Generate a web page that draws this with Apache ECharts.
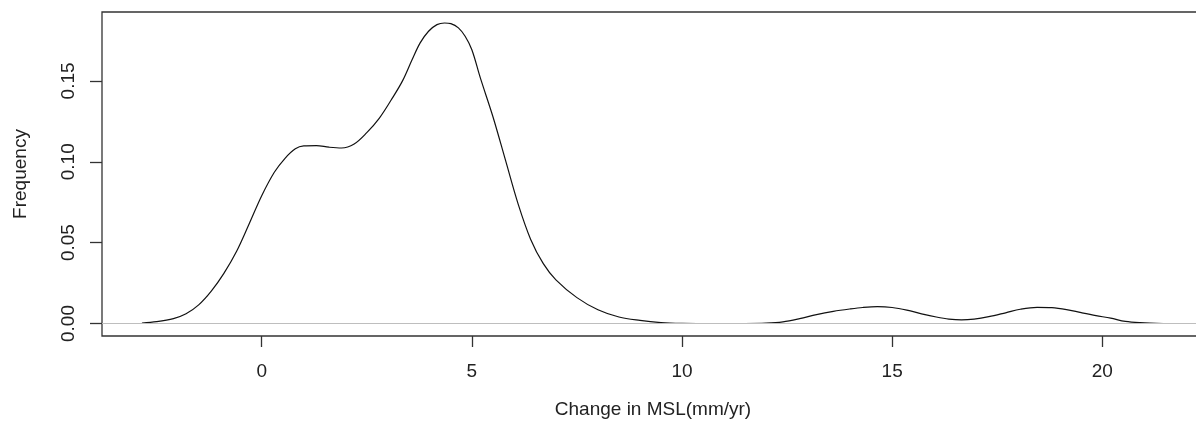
<!DOCTYPE html>
<html>
<head>
<meta charset="utf-8">
<script src="https://cdn.jsdelivr.net/npm/echarts@6/dist/echarts.min.js"></script>
<style>
html,body{margin:0;padding:0;background:#fff;}
#chart{width:1196px;height:432px;}
</style>
</head>
<body>
<div id="chart"></div>
<script>
// Density estimate: x = change in MSL (mm/yr), y = density
const densityX = [-2.85,-2.5,-2.1,-1.8,-1.5,-1.2,-0.9,-0.6,-0.3,0.0,0.3,0.55,0.8,1.0,1.3,1.6,1.9,2.2,2.5,2.8,3.1,3.35,3.58,3.77,3.97,4.17,4.35,4.5,4.68,4.84,5.0,5.2,5.5,5.8,6.1,6.4,6.7,7.0,7.5,8.0,8.5,9.0,9.5,10.0,10.5,11.0,11.5,12.0,12.4,12.8,13.2,13.6,14.0,14.3,14.65,15.0,15.35,15.7,16.05,16.35,16.65,16.95,17.3,17.7,18.05,18.45,18.8,19.15,19.5,19.85,20.2,20.55,20.9,21.45];
const densityY = [0.0003,0.0011,0.0030,0.0060,0.0115,0.0200,0.0310,0.0445,0.0615,0.0790,0.0935,0.1020,0.1080,0.1098,0.1100,0.1090,0.1085,0.1110,0.1180,0.1270,0.1390,0.1500,0.1632,0.1735,0.1807,0.1848,0.1858,0.1854,0.1828,0.1776,0.1693,0.1520,0.1280,0.1010,0.0740,0.0520,0.0370,0.0270,0.0160,0.0085,0.0040,0.0019,0.0006,0.0001,0,0,0,0.0002,0.0010,0.0030,0.0055,0.0075,0.0090,0.0099,0.0104,0.0099,0.0083,0.0060,0.0040,0.0027,0.0022,0.0027,0.0042,0.0066,0.0088,0.0100,0.0098,0.0086,0.0067,0.0049,0.0033,0.0013,0.0005,0];
const xTicks = [0, 5, 10, 15, 20];
const yTicks = [0, 0.05, 0.10, 0.15];
const xRange = [-3.80, 22.42];
const yRange = [-0.00773, 0.1926];
const xTitle = 'Change in MSL(mm/yr)';
const yTitle = 'Frequency';

const curve = densityX.map((x, i) => [x, densityY[i]]);
const zeroLine = [[xRange[0], 0], [xRange[1], 0]];

const font = 'Liberation Sans, Arial, sans-serif';
const chart = echarts.init(document.getElementById('chart'), null, {renderer: 'canvas'});
chart.setOption({
  animation: false,
  backgroundColor: '#ffffff',
  grid: {
    left: 102, top: 12, right: -8, bottom: 96,
    show: true, borderColor: '#333', borderWidth: 1.3,
    containLabel: false, outerBoundsMode: 'none'
  },
  xAxis: {
    type: 'value', min: xRange[0], max: xRange[1],
    name: xTitle, nameLocation: 'middle', nameGap: 64,
    nameTextStyle: {fontFamily: font, fontSize: 19, color: '#222'},
    axisLine: {show: false, onZero: false},
    splitLine: {show: false},
    axisTick: {show: true, inside: false, length: 11, customValues: xTicks, lineStyle: {color: '#333', width: 1.3}},
    axisLabel: {customValues: xTicks, margin: 26, fontFamily: font, fontSize: 19, color: '#222',
      formatter: v => String(v)}
  },
  yAxis: {
    type: 'value', min: yRange[0], max: yRange[1],
    name: yTitle, nameLocation: 'middle', nameGap: 72, nameRotate: 90,
    nameTextStyle: {fontFamily: font, fontSize: 19, color: '#222'},
    axisLine: {show: false, onZero: false},
    splitLine: {show: false},
    axisTick: {show: true, inside: false, length: 12, customValues: yTicks, lineStyle: {color: '#333', width: 1.3}},
    axisLabel: {customValues: yTicks, rotate: 90, margin: 24, fontFamily: font, fontSize: 19, color: '#222',
      formatter: v => v.toFixed(2)}
  },
  series: [
    {
      type: 'line', data: curve, showSymbol: false, smooth: 0.35,
      lineStyle: {color: '#111', width: 1.2}, z: 2, silent: true
    },
    {
      type: 'line', data: zeroLine, showSymbol: false,
      lineStyle: {color: '#bebebe', width: 1.2}, z: 3, silent: true
    }
  ]
});
</script>
</body>
</html>
